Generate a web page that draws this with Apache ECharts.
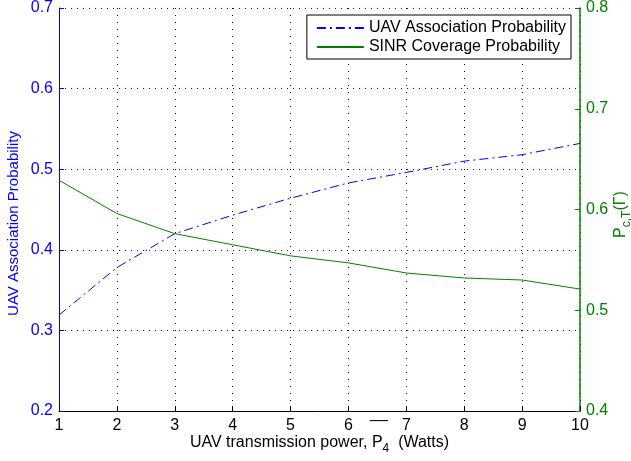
<!DOCTYPE html>
<html>
<head>
<meta charset="utf-8">
<script src="https://cdn.jsdelivr.net/npm/echarts@6/dist/echarts.min.js"></script>
<style>
  html, body { margin: 0; padding: 0; background: #fff; }
  #main { width: 631px; height: 461px; }
</style>
</head>
<body>
<div id="main"></div>
<script>
// transmit power P4 (Watts)
const powers = ['1', '2', '3', '4', '5', '6', '7', '8', '9', '10'];
// left axis
const assocProb = [0.319, 0.378, 0.420, 0.443, 0.464, 0.483, 0.496, 0.510, 0.518, 0.532];
// right axis
const coverageProb = [0.629, 0.596, 0.576, 0.565, 0.554, 0.547, 0.537, 0.532, 0.530, 0.521];

const FONT = 'Liberation Sans, Arial, Helvetica, sans-serif';
const BLUE = '#0000ff';
const GREEN = '#008000';
const DASHDOT = [9, 4, 2, 4];

let myChart = echarts.init(document.getElementById('main'));
const option = {
    animation: false,
    textStyle: { fontFamily: FONT },
    grid: { left: 59, right: 51, top: 8, bottom: 50, outerBoundsMode: 'none', containLabel: false },
    legend: {
        orient: 'vertical',
        right: 60,
        top: 15,
        padding: [4, 5, 3, 9],
        itemGap: 1,
        itemWidth: 47,
        itemHeight: 14,
        backgroundColor: '#fff',
        borderColor: '#000',
        borderWidth: 1,
        borderRadius: 0,
        itemStyle: { opacity: 0 },
        textStyle: { fontSize: 16, lineHeight: 18, color: '#000', fontFamily: FONT },
        data: [
            { name: 'UAV Association Probability', lineStyle: { type: DASHDOT } },
            { name: 'SINR Coverage Probability' }
        ]
    },
    xAxis: {
        type: 'category',
        data: powers,
        boundaryGap: false,
        name: 'UAV transmission power, P{sub|4}  (Watts)',
        nameLocation: 'middle',
        nameMoveOverlap: false,
        nameGap: 20,
        nameTextStyle: {
            fontSize: 16, color: '#000',
            rich: { sub: { fontSize: 12, padding: [12, 0, 0, 0], color: '#000' } }
        },
        axisLine: { lineStyle: { color: '#000', width: 1 } },
        axisTick: { inside: true, length: 5, alignWithLabel: true, lineStyle: { color: '#000' } },
        axisLabel: { fontSize: 16, color: '#000', margin: 7 },
        splitLine: { show: true, lineStyle: { color: '#000', type: [1, 6], width: 1 } }
    },
    yAxis: [
        {
            type: 'value',
            min: 0.2, max: 0.7, interval: 0.1,
            name: 'UAV Association Probability',
            nameLocation: 'middle',
            nameMoveOverlap: false,
            nameRotate: 90,
            nameGap: 38,
            nameTextStyle: { fontSize: 15, color: BLUE, padding: [0, 28, 0, 0] },
            axisLine: { show: true, lineStyle: { color: BLUE, width: 1 } },
            axisTick: { show: true, inside: true, length: 5, lineStyle: { color: BLUE } },
            axisLabel: { fontSize: 16, color: BLUE, margin: 6, formatter: v => v.toFixed(1) },
            splitLine: { show: true, lineStyle: { color: BLUE, type: [1, 5], width: 1 } }
        },
        {
            type: 'value',
            position: 'right',
            min: 0.4, max: 0.8, interval: 0.1,
            name: 'P{sub|c,T}(Γ)',
            nameLocation: 'middle',
            nameMoveOverlap: false,
            nameRotate: 90,
            nameGap: 29,
            nameTextStyle: {
                fontSize: 16, color: GREEN, padding: [0, 10, 0, 0],
                rich: { sub: { fontSize: 12, padding: [12, 0, 0, 0], color: GREEN } }
            },
            axisLine: { show: true, lineStyle: { color: GREEN, width: 1.5 } },
            axisTick: { show: true, inside: true, length: 5, lineStyle: { color: GREEN } },
            axisLabel: { fontSize: 16, color: GREEN, margin: 6, formatter: v => v.toFixed(1) },
            splitLine: { show: false }
        }
    ],
    series: [
        {
            name: 'UAV Association Probability',
            type: 'line',
            yAxisIndex: 0,
            data: assocProb,
            symbol: 'none',
            color: BLUE,
            lineStyle: { color: BLUE, width: 1, type: DASHDOT }
        },
        {
            name: 'SINR Coverage Probability',
            type: 'line',
            yAxisIndex: 1,
            data: coverageProb,
            symbol: 'none',
            color: GREEN,
            lineStyle: { color: GREEN, width: 1 }
        }
    ],
    graphic: [
        {
            // stray bar drawn above P4 in the original label
            type: 'text',
            left: 370,
            top: 406,
            style: { text: '__', fontSize: 16, fill: '#000', fontFamily: FONT }
        }
    ]
};
myChart.setOption(option);
</script>
</body>
</html>
